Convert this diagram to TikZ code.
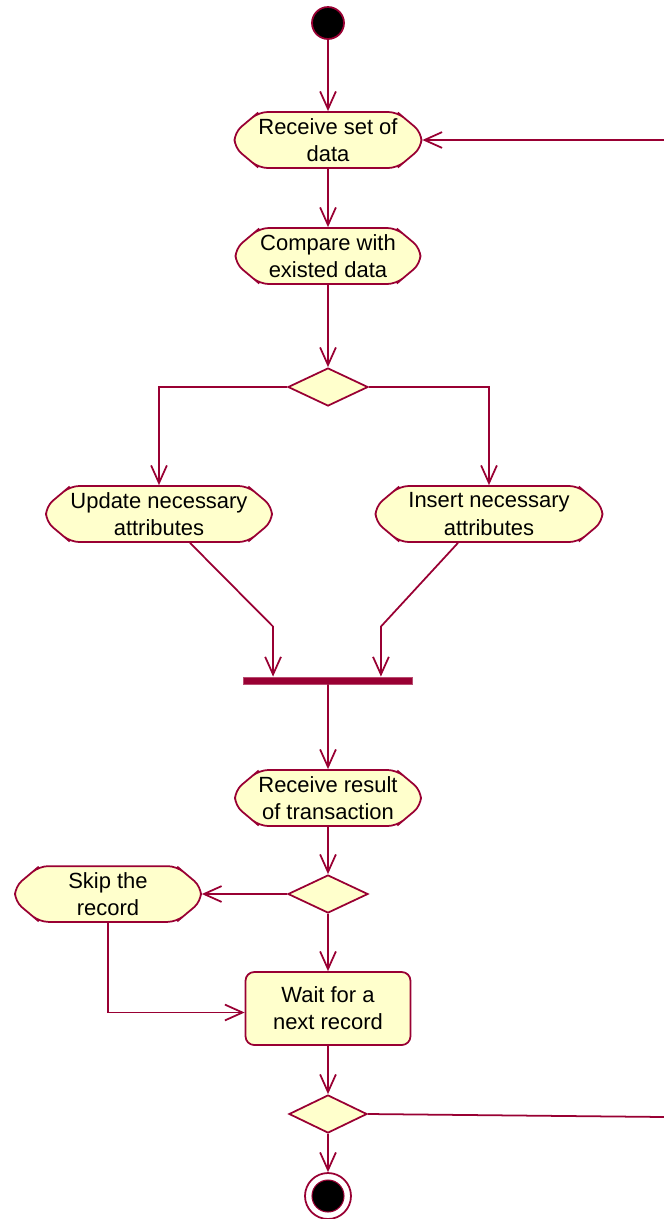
\documentclass[tikz,border=0pt]{standalone}
\usepackage{fontspec}
\setmainfont{Liberation Sans}
\usetikzlibrary{shapes.geometric,shapes.misc,arrows.meta}
\definecolor{umlline}{RGB}{153,0,51}
\definecolor{umlfill}{RGB}{255,255,204}

\begin{document}
\begin{tikzpicture}[node distance=2.3cm,
  activity/.style={draw=umlline, line width=1pt, fill=umlfill, chamfered rectangle, chamfered rectangle xsep=0.34cm, chamfered rectangle angle=50, rounded corners=5pt, align=center, minimum height=1.12cm, inner xsep=2pt, inner ysep=0pt, font=\fontsize{12.5}{15.5}\selectfont},
  waitbox/.style={draw=umlline, line width=1pt, fill=umlfill, rectangle, rounded corners=5pt, align=center, inner sep=2pt, font=\fontsize{12.5}{15.5}\selectfont},
  decision/.style={draw=umlline, line width=1pt, fill=umlfill, diamond, minimum width=1.6cm, minimum height=0.76cm, inner sep=0pt},
  flow/.style={draw=umlline, line width=1pt, -{Straight Barb[length=10pt,width=9pt]}},
  line/.style={draw=umlline, line width=1pt}]

\useasboundingbox (0,0) rectangle (13.28,-24.38);

\node (start) [circle, fill=black, draw=umlline, line width=1pt, minimum size=0.64cm, inner sep=0pt] at (6.56,-0.46) {};
\node (receive) [activity, minimum width=3.74cm, below of=start, node distance=2.34cm] {Receive set of\\data};
\node (compare) [activity, minimum width=3.7cm, below of=receive, node distance=2.32cm] {Compare with\\existed data};
\node (dec1) [decision, below of=compare, node distance=2.62cm] {};
\node (update) [activity, minimum width=4.52cm, below of=dec1, node distance=2.54cm, xshift=-3.38cm] {Update necessary\\attributes};
\node (insert) [activity, minimum width=4.54cm, below of=dec1, node distance=2.54cm, xshift=3.22cm] {Insert necessary\\attributes};
\node (bar) [rectangle, fill=umlline, draw=umlline!70, line width=0.5pt, minimum width=3.38cm, minimum height=0.14cm, inner sep=0pt, below of=dec1, node distance=5.87cm] {};
\node (result) [activity, minimum width=3.72cm, below of=bar, node distance=2.35cm] {Receive result\\of transaction};
\node (dec2) [decision, below of=result, node distance=1.92cm] {};
\node (skip) [activity, minimum width=3.72cm, minimum height=1.08cm, left of=dec2, node distance=4.4cm] {Skip the\\record};
\node (wait) [waitbox, minimum width=3.3cm, minimum height=1.46cm, below of=dec2, node distance=2.29cm] {Wait for a\\next record};
\node (dec3) [decision, minimum width=1.56cm, below of=wait, node distance=2.11cm] {};
\node (final) [circle, draw=umlline, line width=1pt, minimum size=0.92cm, inner sep=0pt, below of=dec3, node distance=1.64cm] {};
\filldraw[fill=black, draw=umlline, line width=0.6pt] (final.center) circle (0.32cm);

% loop back to the top
\coordinate (loopout) at (13.28,-22.34);
\coordinate (loopin) at (13.28,-2.8);

\draw[flow] (start) -- (receive);
\draw[flow] (receive) -- (compare);
\draw[flow] (compare) -- (dec1);
\draw[flow] (dec1.west) -| (update.north);
\draw[flow] (dec1.east) -| (insert.north);
\draw[flow] ([xshift=0.62cm]update.south) -- ([xshift=0.6cm,yshift=1cm]bar.north west) -- ([xshift=0.6cm]bar.north west);
\draw[flow] ([xshift=-0.62cm]insert.south) -- ([xshift=-0.64cm,yshift=1cm]bar.north east) -- ([xshift=-0.64cm]bar.north east);
\draw[flow] (bar) -- (result);
\draw[flow] (result) -- (dec2);
\draw[flow] (dec2.west) -- (skip.east);
\draw[flow] (dec2) -- (wait);
\draw[flow] (skip.south) |- ([yshift=-0.08cm]wait.west);
\draw[flow] (wait) -- (dec3);
\draw[flow] (dec3) -- (final);
\draw[line] (dec3.east) -- (loopout);
\draw[flow] (loopin) -- (receive.east);
\end{tikzpicture}
\end{document}
